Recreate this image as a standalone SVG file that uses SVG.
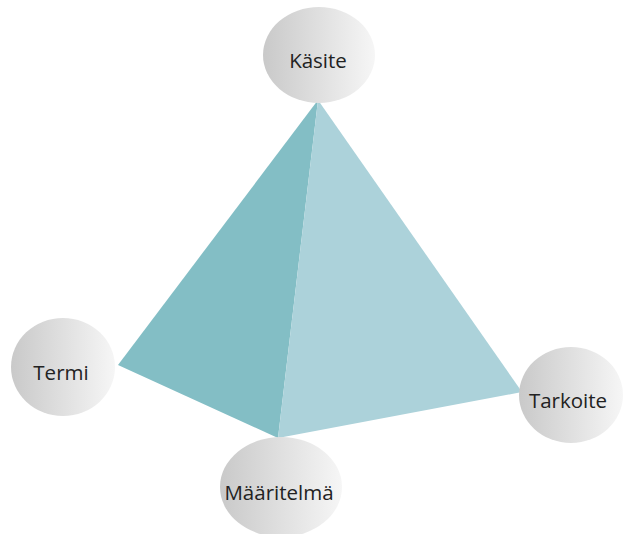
<svg xmlns="http://www.w3.org/2000/svg" width="623" height="534" viewBox="0 0 623 534">
<defs>
<linearGradient id="g" x1="0" y1="0" x2="1" y2="0">
<stop offset="0" stop-color="#c9c9c9"/>
<stop offset="1" stop-color="#f6f6f6"/>
</linearGradient>
<style>
.n{fill:url(#g)}
.t{font-family:"Open Sans",sans-serif;font-size:20.5px;fill:#222;text-anchor:middle}
</style>
</defs>
<rect width="623" height="534" fill="#fff"/>
<g id="connectors">
<polygon points="318,100 118,365 278,438" fill="#83bec5"/>
<polygon points="318,100 278,438 522,392" fill="#acd2da"/>
</g>
<g id="kasite"><ellipse class="n" cx="319" cy="55" rx="56" ry="48"/><text class="t" x="318" y="68">Käsite</text></g>
<g id="termi"><ellipse class="n" cx="63" cy="367" rx="52" ry="49"/><text class="t" x="61" y="380">Termi</text></g>
<g id="tarkoite"><ellipse class="n" cx="571" cy="395" rx="52" ry="48"/><text class="t" x="568" y="408">Tarkoite</text></g>
<g id="maaritelma"><ellipse class="n" cx="281" cy="487" rx="61" ry="50"/><text class="t" x="279" y="500">Määritelmä</text></g>
</svg>
